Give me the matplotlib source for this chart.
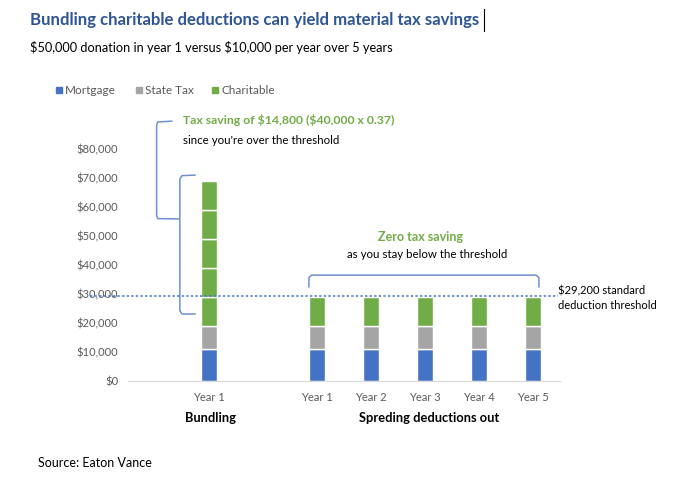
import matplotlib
matplotlib.use("Agg")
import matplotlib.pyplot as plt
from matplotlib.patches import Rectangle

plt.rcParams['font.family'] = ['Lato', 'DejaVu Sans']
plt.rcParams['text.parse_math'] = False

# ---------------- Data ---------------- #
categories = ["", "Year 1", "", "Year 1", "Year 2", "Year 3", "Year 4", "Year 5"]
mortgage = [0, 11000, 0, 11000, 11000, 11000, 11000, 11000]
state_tax = [0, 8000, 0, 8000, 8000, 8000, 8000, 8000]
charitable = [0, 10000, 0, 10000, 10000, 10000, 10000, 10000]
bundle_extra = [10000, 10000, 10000, 10000]  # rest of the $50,000 gift in year 1
threshold = 29200
y_ticks = [0, 10000, 20000, 30000, 40000, 50000, 60000, 70000, 80000]

BLUE = "#4472C4"
GREY = "#A5A5A5"
GREEN = "#70AD47"
TEXT_GREY = "#595959"

W, H = 679, 486


def fx(px):
    return px / W


def fy(py):
    return 1 - py / H


fig = plt.figure(figsize=(W / 100, H / 100), dpi=100)
ax = fig.add_axes([fx(128), fy(380.7), (560 - 128) / W, (380.7 - 119.7) / H])

x = list(range(len(categories)))
bw = 0.29
ax.bar(x, mortgage, bw, color=BLUE, edgecolor="white", lw=1)
bottom = [m + s for m, s in zip(mortgage, state_tax)]
ax.bar(x, state_tax, bw, bottom=mortgage, color=GREY, edgecolor="white", lw=1)
ax.bar(x, charitable, bw, bottom=bottom, color=GREEN, edgecolor="white", lw=1)
top = bottom[1] + charitable[1]
for seg in bundle_extra:
    ax.bar(1, seg, bw, bottom=top, color=GREEN, edgecolor="white", lw=1)
    top += seg

ax.set_xlim(-0.5, 7.5)
ax.set_ylim(0, 90000)
ax.set_yticks(y_ticks)
ax.set_yticklabels([f"${v:,.0f}" for v in y_ticks], color=TEXT_GREY, fontsize=8)
ax.set_xticks(x[1:2] + x[3:])
ax.set_xticklabels([categories[1]] + categories[3:], color=TEXT_GREY, fontsize=8)
ax.tick_params(length=0, pad=8)
ax.tick_params(axis="y", pad=7)
for s in ["top", "right", "left"]:
    ax.spines[s].set_visible(False)
ax.spines["bottom"].set_color("#D9D9D9")

# threshold line
ax.plot([-1.2, 7.46], [threshold, threshold], ls=(0, (1.5, 1.5)), color=BLUE, lw=1.1, clip_on=False)

# brackets
bk = dict(color="#6F8FD0", lw=1.1, clip_on=False)
ax.plot([0.31, 0.05, 0.03, 0.03, 0.05, 0.43], [89500, 89200, 88000, 57000, 55900, 55800], **bk)
ax.plot([0.74, 0.5, 0.46, 0.46, 0.5, 0.74], [70900, 70700, 69500, 24200, 23000, 23000], **bk)
ax.plot([2.85, 2.85, 2.9, 7.06, 7.11, 7.11], [32400, 35500, 36400, 36400, 35500, 32400], **bk)

# annotations
fig.text(fx(183), fy(120), "Tax saving of $14,800 ($40,000 x 0.37)", color=GREEN,
         fontsize=8.8, fontweight="bold", va="center")
fig.text(fx(183), fy(141), "since you're over the threshold", color="black", fontsize=8.3, va="center")
fig.text(fx(421), fy(237), "Zero tax saving", color=GREEN, fontsize=9, fontweight="bold",
         va="center", ha="center")
fig.text(fx(427), fy(255), "as you stay below the threshold", color="black", fontsize=8.3,
         va="center", ha="center")
fig.text(fx(558), fy(298), "$29,200 standard\ndeduction threshold", color="black", fontsize=8,
         va="center", ha="left", linespacing=1.45)

# group labels
fig.text(fx(210), fy(418), "Bundling", fontsize=9.3, fontweight="bold", ha="center", va="center")
fig.text(fx(429), fy(418), "Spreding deductions out", fontsize=9.3, fontweight="bold",
         ha="center", va="center")

# title, subtitle, source
fig.text(fx(30), fy(20), "Bundling charitable deductions can yield material tax savings",
         color="#2F5597", fontsize=12.1, fontweight="bold", va="center")
fig.add_artist(plt.Line2D([fx(484), fx(484)], [fy(9), fy(31)], color="black", lw=0.8))
fig.text(fx(30), fy(48), "$50,000 donation in year 1 versus $10,000 per year over 5 years",
         fontsize=9.2, va="center")
fig.text(fx(38), fy(463), "Source: Eaton Vance", fontsize=9, va="center")

# legend
legend_items = [("Mortgage", BLUE, 56), ("State Tax", GREY, 136), ("Charitable", GREEN, 212)]
for label, col, px in legend_items:
    fig.add_artist(Rectangle((fx(px), fy(93)), 5.5 / W, 5.5 / H, color=col))
    fig.text(fx(px + 9), fy(90), label, color=TEXT_GREY, fontsize=8.5, va="center")

fig.savefig("out.png", dpi=100)
